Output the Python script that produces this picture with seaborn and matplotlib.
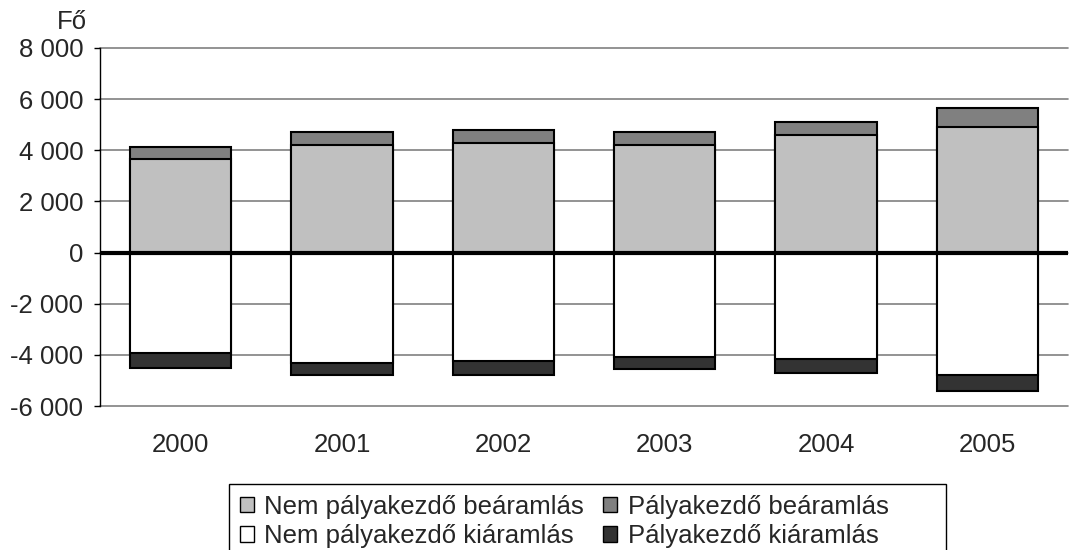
import matplotlib
matplotlib.use("Agg")
import matplotlib.pyplot as plt
from matplotlib.patches import Patch, Rectangle
from matplotlib.ticker import FuncFormatter
import seaborn as sns
import pandas as pd

# Adatok (fő)
evek = ["2000", "2001", "2002", "2003", "2004", "2005"]
nem_palyakezdo_be = [3660, 4210, 4270, 4210, 4600, 4930]
palyakezdo_be = [460, 520, 520, 520, 490, 720]
nem_palyakezdo_ki = [-3940, -4320, -4250, -4090, -4170, -4800]
palyakezdo_ki = [-560, -480, -550, -480, -550, -620]

df = pd.DataFrame({
    "ev": evek,
    "nem_be": nem_palyakezdo_be,
    "pk_be": palyakezdo_be,
    "nem_ki": nem_palyakezdo_ki,
    "pk_ki": palyakezdo_ki,
})
df["be_ossz"] = df["nem_be"] + df["pk_be"]
df["ki_ossz"] = df["nem_ki"] + df["pk_ki"]

sns.set_style("white")
plt.rcParams["font.family"] = ["Liberation Sans", "DejaVu Sans"]
fs = 18.5

fig = plt.figure(figsize=(10.7, 5.5), dpi=100)
ax = fig.add_axes([100 / 1070, 144 / 550, 968 / 1070, 358 / 550])

szin_nem_be = "#c0c0c0"
szin_pk_be = "#808080"
szin_nem_ki = "#ffffff"
szin_pk_ki = "#333333"
w = 0.63

# Halmozott oszlopok: előbb a teljes, utána az alsó réteg
sns.barplot(data=df, x="ev", y="be_ossz", color=szin_pk_be, edgecolor="black",
            linewidth=1.5, width=w, saturation=1, ax=ax)
sns.barplot(data=df, x="ev", y="nem_be", color=szin_nem_be, edgecolor="black",
            linewidth=1.5, width=w, saturation=1, ax=ax)
sns.barplot(data=df, x="ev", y="ki_ossz", color=szin_pk_ki, edgecolor="black",
            linewidth=1.5, width=w, saturation=1, ax=ax)
sns.barplot(data=df, x="ev", y="nem_ki", color=szin_nem_ki, edgecolor="black",
            linewidth=1.5, width=w, saturation=1, ax=ax)

ax.set_xlim(-0.5, 5.5)
ax.set_ylim(-6000, 8000)
ax.set_yticks(range(-6000, 8001, 2000))
ax.yaxis.set_major_formatter(FuncFormatter(lambda v, p: f"{int(v):,}".replace(",", " ")))
ax.yaxis.grid(True, color="#808080", linewidth=1.2)
for gl in ax.get_ygridlines():
    gl.set_clip_on(False)
ax.set_axisbelow(True)
ax.axhline(0, color="black", linewidth=3, zorder=5)

for s in ["top", "right", "bottom"]:
    ax.spines[s].set_visible(False)
ax.spines["left"].set_color("black")
ax.spines["left"].set_linewidth(1)

ax.tick_params(axis="y", which="both", left=True, length=4, width=1, color="black",
               labelsize=fs, pad=8)
ax.tick_params(axis="x", bottom=False, labelsize=fs, pad=16)
ax.set_xlabel("")
ax.set_ylabel("")

fig.text(72 / 1070, 1 - 22 / 550, "Fő", fontsize=fs, ha="center", va="center")

# Jelmagyarázat: a keret külön téglalap, jobb oldalon nagyobb üres hellyel
handles = [
    Patch(facecolor=szin_nem_be, edgecolor="black", label="Nem pályakezdő beáramlás"),
    Patch(facecolor=szin_nem_ki, edgecolor="black", label="Nem pályakezdő kiáramlás"),
    Patch(facecolor=szin_pk_be, edgecolor="black", label="Pályakezdő beáramlás"),
    Patch(facecolor=szin_pk_ki, edgecolor="black", label="Pályakezdő kiáramlás"),
]
fig.legend(handles=handles, ncol=2, loc="upper left",
           bbox_to_anchor=(229 / 1070, 1 - 484 / 550), fontsize=fs,
           frameon=False, handlelength=0.55, handleheight=0.55,
           handletextpad=0.4, columnspacing=0.75, borderpad=0.42,
           labelspacing=0.2, borderaxespad=0)
fig.patches.append(Rectangle((229 / 1070, -0.05), (946 - 229) / 1070, 0.05 + 1 - 484 / 550,
                             transform=fig.transFigure, fill=False,
                             edgecolor="black", linewidth=1))

fig.savefig("out.png", dpi=100)
